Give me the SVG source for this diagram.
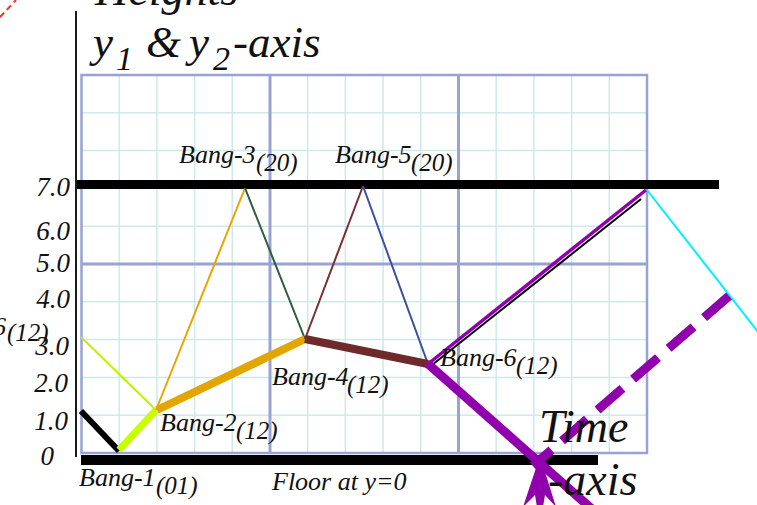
<svg xmlns="http://www.w3.org/2000/svg" width="757" height="505" viewBox="0 0 757 505">
<style>
text{font-family:"Liberation Serif","Times New Roman",serif;font-style:italic;fill:#111}
.lbl{font-size:26px}
.s{font-size:25px}
.ax{font-size:27px;text-anchor:end}
.big{font-size:45px}
.sub{font-size:34px}
.minor{stroke:#cfe9ea;stroke-width:1.5;fill:none}
.major{stroke:#98a3d4;stroke-width:3;fill:none}
.ln{fill:none;stroke-linecap:butt}
</style>
<rect width="757" height="505" fill="#fff"/>
<g id="grid">
<path class="minor" d="M119.2 75V453M156.9 75V453M194.6 75V453M232.3 75V453M307.7 75V453M345.4 75V453M383.1 75V453M420.8 75V453M496.2 75V453M533.9 75V453M571.6 75V453M609.3 75V453M81.5 112.8H647M81.5 150.6H647M81.5 188.4H647M81.5 226.2H647M81.5 301.8H647M81.5 339.6H647M81.5 377.4H647M81.5 415.2H647"/>
<path class="major" d="M270 75V453M458.5 75V453M81.5 264H647"/>
<rect x="81.5" y="75" width="565.5" height="378" fill="none" stroke="#98a3d4" stroke-width="2.5"/>
</g>
<g id="axes">
<line x1="76" y1="11" x2="76" y2="457" stroke="#1a1a1a" stroke-width="2"/>
<rect id="ceiling" x="77" y="180" width="642" height="9" fill="#000"/>
<rect id="floor" x="81" y="455" width="517" height="10" fill="#000"/>
<line x1="0" y1="17" x2="16" y2="0" stroke="#ff2a2a" stroke-width="2" stroke-dasharray="6 4"/>
</g>
<g id="connectors">
<line class="ln" x1="81" y1="411" x2="119" y2="451" stroke="#000" stroke-width="6"/>
<line class="ln" x1="119" y1="450" x2="156" y2="410" stroke="#c8ff00" stroke-width="7"/>
<line class="ln" x1="81" y1="337" x2="156" y2="410" stroke="#c4f000" stroke-width="2"/>
<line class="ln" x1="156" y1="410" x2="245" y2="188" stroke="#e6a600" stroke-width="2"/>
<line class="ln" x1="245" y1="188" x2="305" y2="339" stroke="#2e5c3c" stroke-width="2"/>
<line class="ln" x1="157" y1="410" x2="305" y2="339" stroke="#e3a600" stroke-width="8"/>
<line class="ln" x1="305" y1="339" x2="363" y2="186" stroke="#7a3030" stroke-width="2"/>
<line class="ln" x1="363" y1="186" x2="428" y2="364" stroke="#3c4f9e" stroke-width="2"/>
<line class="ln" x1="305" y1="339" x2="428" y2="364" stroke="#6e2a2a" stroke-width="8"/>
<line class="ln" x1="428" y1="364" x2="646" y2="190" stroke="#9100ad" stroke-width="3.5"/>
<line class="ln" x1="432" y1="365" x2="641" y2="199" stroke="#000" stroke-width="2"/>
<line class="ln" x1="647" y1="190" x2="762" y2="337" stroke="#00f0ff" stroke-width="2"/>
<line class="ln" x1="427" y1="363" x2="602" y2="518" stroke="#9100ad" stroke-width="9"/>
<line class="ln" x1="729" y1="296" x2="533" y2="466" stroke="#9100ad" stroke-width="9" stroke-dasharray="33 14"/>
<path d="M540 456L556 507L545 495L543 507L537 507L535 495L523 507Z" fill="#9100ad"/>
</g>
<g id="y-labels">
<text class="ax" x="70" y="196">7.0</text>
<text class="ax" x="70" y="240">6.0</text>
<text class="ax" x="70" y="272">5.0</text>
<text class="ax" x="70" y="308">4.0</text>
<text class="ax" x="69" y="355">3.0</text>
<text class="ax" x="68" y="392">2.0</text>
<text class="ax" x="68" y="430">1.0</text>
<text class="ax" x="54" y="465">0</text>
</g>
<g id="title">
<text class="big" x="95" y="5" style="font-size:46px">Heights</text>
<text class="big" y="57"><tspan x="93">y</tspan><tspan class="sub" x="116" y="70">1</tspan><tspan x="146" y="57">&amp;</tspan><tspan x="189" y="57">y</tspan><tspan class="sub" x="213" y="70">2</tspan><tspan x="233" y="57">-axis</tspan></text>
</g>
<g id="bang-1"><text class="lbl" x="79" y="486">Bang-1<tspan class="s" x="156" y="494">(01)</tspan></text></g>
<g id="bang-2"><text class="lbl" x="160" y="431">Bang-2<tspan class="s" x="236" y="439">(12)</tspan></text></g>
<g id="bang-3"><text class="lbl" x="179" y="163">Bang-3<tspan class="s" x="256" y="171">(20)</tspan></text></g>
<g id="bang-4"><text class="lbl" x="272" y="385">Bang-4<tspan class="s" x="347" y="393">(12)</tspan></text></g>
<g id="bang-5"><text class="lbl" x="335" y="163">Bang-5<tspan class="s" x="411" y="171">(20)</tspan></text></g>
<g id="bang-6"><text class="lbl" x="440" y="366">Bang-6<tspan class="s" x="516" y="374">(12)</tspan></text></g>
<g id="bang-6-left"><text class="lbl" x="-7" y="335">6<tspan class="s" x="7" y="341">(12)</tspan></text></g>
<g id="floor-label"><text class="lbl" x="272" y="490">Floor at y=0</text></g>
<g id="time-axis">
<text x="539" y="442" style="font-size:46px">Time</text>
<text x="548" y="495" style="font-size:46px">-axis</text>
</g>
</svg>
